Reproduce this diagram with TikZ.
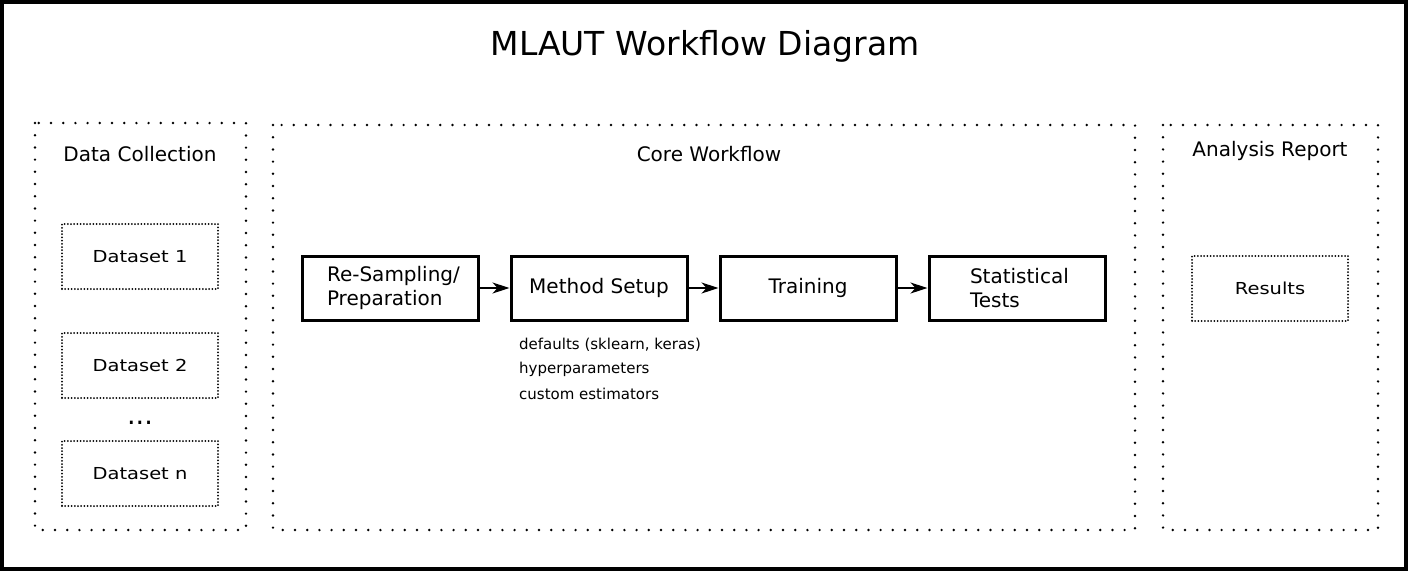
\documentclass[tikz,border=0pt]{standalone}
\usepackage{fontspec}
\setmainfont{DejaVu Sans}
\newfontfamily\widefont[FakeStretch=1.18]{DejaVu Sans}
\usetikzlibrary{arrows.meta}
\begin{document}
\begin{tikzpicture}[x=1pt,y=-1pt,
  group/.style={draw,line width=2.7pt,dash pattern=on 0pt off 12.2pt,line cap=round},
  dset/.style={draw,line width=2pt,dash pattern=on 0pt off 3.2pt,line cap=round,minimum width=156pt,minimum height=65pt,font=\widefont\fontsize{16.5}{20}\selectfont},
  proc/.style={draw,line width=3pt,minimum width=176pt,minimum height=64pt,inner sep=0pt},
  lbl/.style={font=\fontsize{20}{24}\selectfont,inner sep=0pt},
  small/.style={font=\fontsize{15}{18}\selectfont,inner sep=0pt,anchor=west},
  arr/.style={-{Stealth[length=17pt,width=11pt,inset=5pt]},line width=1.5pt}]
\useasboundingbox (0,0) rectangle (1408,571);
\draw[line width=4pt] (2,2) rectangle (1406,569);
\node[font=\fontsize{33}{40}\selectfont] (title) at (705,46) {MLAUT Workflow Diagram};
% groups
\draw[group] (35,123) rectangle (246,530);
\draw[group] (273,125) rectangle (1135,530);
\draw[group] (1163,125) rectangle (1378,530);
\node[lbl] (gdc) at (140,154) {Data Collection};
\node[lbl] (gcw) at (709,154) {Core Workflow};
\node[lbl] (gar) at (1270,151) {Analysis Report};
% datasets
\node[dset] (d1) at (140,256.5) {Dataset 1};
\node[dset] (d2) at (140,365.5) {Dataset 2};
\node[font=\fontsize{27}{30}\selectfont,anchor=base,inner sep=0pt] (dots) at (140,424) {...};
\node[dset] (dn) at (140,473.5) {Dataset n};
% results
\node[dset] (res) at (1270,288.5) {Results};
% process
\node[proc,lbl,align=flush left,text width=126pt] (rs) at (390,288) {\mbox{Re-Sampling/}\\Preparation};
\node[proc,lbl] (ms) at (599,288) {Method Setup};
\node[proc,lbl] (tr) at (808,288) {Training};
\node[proc,lbl,align=flush left,text width=94pt] (st) at (1017,288) {Statistical\\Tests};
\draw[arr] (rs) -- (ms);
\draw[arr] (ms) -- (tr);
\draw[arr] (tr) -- (st);
\node[small] (a1) at (519,345) {defaults (sklearn, keras)};
\node[small] (a2) at (519,369) {hyperparameters};
\node[small] (a3) at (519,394) {custom estimators};
\end{tikzpicture}
\end{document}
